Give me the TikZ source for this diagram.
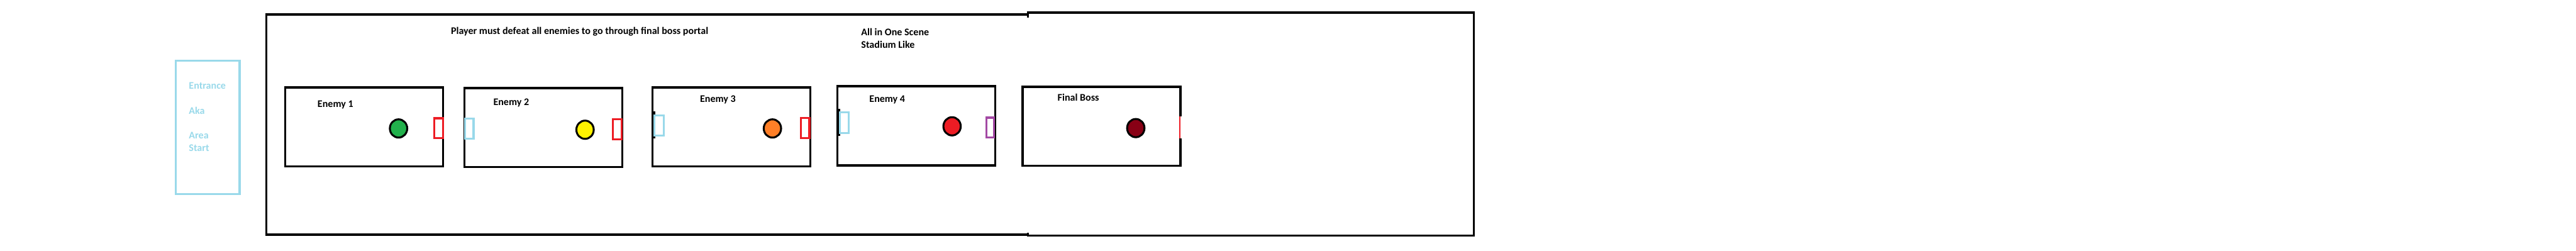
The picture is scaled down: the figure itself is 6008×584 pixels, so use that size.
\documentclass[tikz,border=0pt]{standalone}
\usepackage{fontspec}
\setmainfont{Carlito}
\usetikzlibrary{shapes.geometric}

\definecolor{paintblue}{HTML}{99D9EA}
\definecolor{paintred}{HTML}{ED1C24}
\definecolor{paintgreen}{HTML}{22B14C}
\definecolor{paintyellow}{HTML}{FFF200}
\definecolor{paintorange}{HTML}{FF7F27}
\definecolor{paintpurple}{HTML}{A349A4}
\definecolor{paintdark}{HTML}{880015}

\begin{document}
\begin{tikzpicture}[x=0.01cm, y=-0.01cm]
\tikzstyle{room}=[draw, line width=0.05cm, minimum width=3.68cm, minimum height=1.845cm, inner sep=0]
\tikzstyle{gate}=[draw, fill=white, line width=0.045cm, minimum width=0.2cm, minimum height=0.465cm, inner sep=0]
\tikzstyle{foe}=[draw, ellipse, line width=0.045cm, minimum width=0.405cm, minimum height=0.425cm, inner sep=0]
\tikzstyle{lbl}=[anchor=base west, inner sep=0, font=\bfseries\fontsize{6.7pt}{8.25pt}\selectfont]
\useasboundingbox (0,0) rectangle (6008,584);
\node[draw=paintblue, line width=0.05cm, minimum width=1.49cm, minimum height=3.10cm, inner sep=0] (entrance) at (484.5,297) {};
\node[lbl, paintblue] (entry1) at (440,208) {Entrance};
\node[lbl, paintblue] (entry2) at (440,266) {Aka};
\node[lbl, paintblue] (entry3) at (440,324) {Area};
\node[lbl, paintblue] (entry4) at (440,353) {Start};
\draw[line width=0.05cm] (2397.5,33.5) -- (621,33.5) -- (621,547) -- (2397.5,547);
\draw[line width=0.05cm] (2397.5,41) -- (2397.5,29.2) -- (3437,29.2) -- (3437,549.5) -- (2397.5,549.5) -- (2397.5,543);
\node[lbl] (rule) at (1051,80) {Player must defeat all enemies to go through final boss portal};
\node[lbl] (scene1) at (2008,83) {All in One Scene};
\node[lbl] (scene2) at (2008,112) {Stadium Like};
\node[room] (r1) at (849.5,296) {}; \node[room] (r2) at (1267.5,297.5) {}; \node[room] (r3) at (1706,296) {}; \node[room] (r4) at (2137,293.5) {}; \node[room] (r5) at (2569,294.5) {};
\node[lbl] (n1) at (740,250) {Enemy 1}; \node[lbl] (n2) at (1150,245) {Enemy 2}; \node[lbl] (n3) at (1632,238) {Enemy 3}; \node[lbl] (n4) at (2027,238) {Enemy 4}; \node[lbl] (n5) at (2466,236) {Final Boss};
\fill (1521.5,260) rectangle (1528,323);
\fill (1951,254) rectangle (1959,317);
\node[gate, draw=paintred] (g1) at (1023,299) {};
\node[gate, draw=paintblue] (g2in) at (1094.5,299.5) {}; \node[gate, draw=paintred] (g2out) at (1439.5,301) {};
\node[gate, draw=paintblue, minimum width=0.21cm, minimum height=0.475cm] (g3in) at (1537,292.5) {}; \node[gate, draw=paintred, minimum width=0.195cm] (g3out) at (1878,298.5) {};
\node[gate, draw=paintblue, minimum width=0.195cm, minimum height=0.485cm] (g4in) at (1969,286.5) {}; \node[gate, draw=paintpurple, minimum width=0.185cm] (g4out) at (2309.5,297.5) {};
\fill[white] (2749,272) rectangle (2756,323);
\node[fill=paintred, inner sep=0, minimum width=0.03cm, minimum height=0.51cm] (g5) at (2751.5,297.5) {};
\node[foe, fill=paintgreen] (f1) at (929.5,299.5) {}; \node[foe, fill=paintyellow] (f2) at (1364.5,302.5) {}; \node[foe, fill=paintorange] (f3) at (1801.5,299.5) {}; \node[foe, fill=paintred] (f4) at (2220.5,294.5) {}; \node[foe, fill=paintdark] (f5) at (2649,298.7) {};
\end{tikzpicture}
\end{document}
